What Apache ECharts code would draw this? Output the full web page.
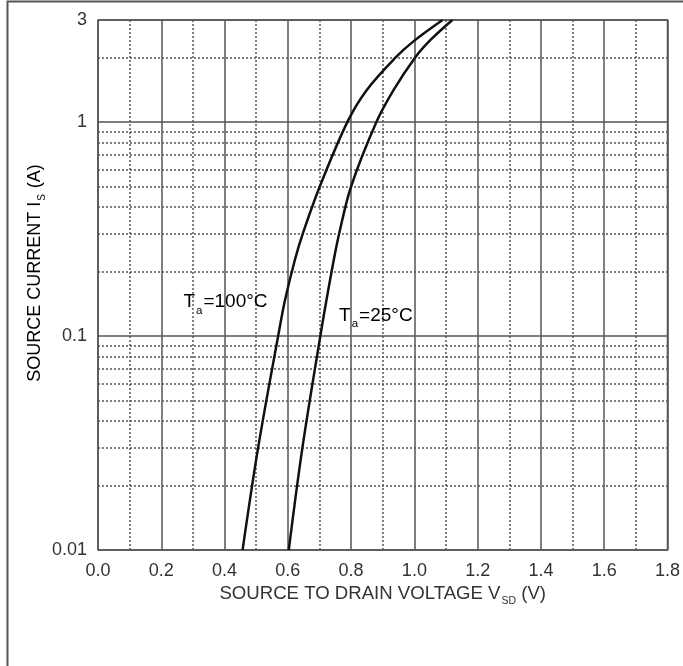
<!DOCTYPE html>
<html>
<head>
<meta charset="utf-8">
<script src="https://cdn.jsdelivr.net/npm/echarts@6/dist/echarts.min.js"></script>
<style>
  html, body { margin: 0; padding: 0; background: #fff; }
  #chart { width: 683px; height: 666px; }
</style>
</head>
<body>
<div id="chart"></div>
<script>
// Source-drain diode forward characteristic, two ambient temperatures
const vsdHot  = [0.457, 0.506, 0.573, 0.591, 0.622, 0.647, 0.701, 0.788, 0.849, 0.940, 0.998, 1.089];
const isHot   = [0.01, 0.03, 0.107, 0.147, 0.226, 0.30, 0.50, 1.00, 1.41, 2.00, 2.39, 3.00];
const vsdRoom = [0.603, 0.646, 0.706, 0.722, 0.745, 0.762, 0.800, 0.880, 0.934, 1.002, 1.051, 1.120];
const isRoom  = [0.01, 0.03, 0.107, 0.147, 0.226, 0.30, 0.50, 1.00, 1.41, 2.00, 2.42, 3.00];

// Dotted sub-decade gridlines of the log current axis
const minorCurrents = [0.02, 0.03, 0.04, 0.05, 0.06, 0.07, 0.08, 0.09,
                       0.2, 0.3, 0.4, 0.5, 0.6, 0.7, 0.8, 0.9, 2];

const xRange = [0, 1.8];
const yRange = [0.01, 3];

const FONT = '"Liberation Sans", Arial, sans-serif';
const TXT = '#333';
const GRID = '#555';

const pairs = (xs, ys) => xs.map((x, i) => [x, ys[i]]);

const chart = echarts.init(document.getElementById('chart'), null, { renderer: 'canvas' });

const option = {
  backgroundColor: '#fff',
  animation: false,
  grid: {
    left: 98, right: 15, top: 20, bottom: 116,
    show: true, borderColor: GRID, borderWidth: 1.5, backgroundColor: 'transparent'
  },
  xAxis: {
    type: 'value',
    min: xRange[0], max: xRange[1], interval: 0.2,
    axisLine: { show: false },
    axisTick: { show: false },
    axisLabel: {
      color: TXT, fontFamily: FONT, fontSize: 18, margin: 12,
      formatter: v => v.toFixed(1)
    },
    splitLine: { show: true, lineStyle: { color: GRID, width: 1.5 } },
    minorTick: { show: false, splitNumber: 2 },
    minorSplitLine: { show: true, lineStyle: { color: GRID, width: 1.5, type: [2, 2] } },
    name: '{m|SOURCE TO DRAIN VOLTAGE V}{s|SD}{m| (V)}',
    nameLocation: 'middle',
    nameGap: 34,
    nameMoveOverlap: false,
    nameTextStyle: {
      rich: {
        m: { color: TXT, fontFamily: FONT, fontSize: 18.6, lineHeight: 20 },
        s: { color: TXT, fontFamily: FONT, fontSize: 10.5, lineHeight: 11, padding: [14, 0, 0, 1] }
      }
    }
  },
  yAxis: {
    type: 'log',
    logBase: 10,
    min: yRange[0], max: yRange[1],
    axisLine: { show: false },
    axisTick: { show: false },
    axisLabel: {
      color: TXT, fontFamily: FONT, fontSize: 18, margin: 11,
      formatter: v => String(+(+v).toPrecision(2))
    },
    splitLine: { show: true, lineStyle: { color: GRID, width: 1.5 } }
  },
  series: [
    {
      name: 'grid-minor',
      type: 'line',
      data: [],
      silent: true,
      markLine: {
        silent: true,
        symbol: 'none',
        label: { show: false },
        lineStyle: { color: GRID, width: 1.5, type: [2, 2] },
        data: minorCurrents.map(v => ({ yAxis: v }))
      }
    },
    {
      name: 'Ta=100°C',
      type: 'line',
      data: pairs(vsdHot, isHot),
      showSymbol: false,
      smooth: 0.35,
      lineStyle: { color: '#111', width: 2.5 },
      z: 5
    },
    {
      name: 'Ta=25°C',
      type: 'line',
      data: pairs(vsdRoom, isRoom),
      showSymbol: false,
      smooth: 0.35,
      lineStyle: { color: '#111', width: 2.5 },
      z: 5
    }
  ]
};

chart.setOption(option);

// Curve captions and the frame, placed from data coordinates
const capRich = {
  t: { color: TXT, fontFamily: FONT, fontSize: 19, lineHeight: 22 },
  s: { color: TXT, fontFamily: FONT, fontSize: 11.5, lineHeight: 12, padding: [18, 1, 0, 1] }
};
const pHot = chart.convertToPixel({ gridIndex: 0 }, [0.270, 0.144]);
const pRoom = chart.convertToPixel({ gridIndex: 0 }, [0.762, 0.125]);

chart.setOption({
  graphic: [
    {
      type: 'text', left: pHot[0], top: pHot[1] - 15, z: 10,
      style: { text: '{t|T}{s|a}{t|=100°C}', rich: capRich }
    },
    {
      type: 'text', left: pRoom[0], top: pRoom[1] - 15, z: 10,
      style: { text: '{t|T}{s|a}{t|=25°C}', rich: capRich }
    },
    {
      type: 'text', z: 10,
      x: 35, y: 273, rotation: Math.PI / 2,
      style: {
        text: '{m|SOURCE CURRENT I}{s|S}{m| (A)}',
        align: 'center', verticalAlign: 'middle',
        rich: {
          m: { color: TXT, fontFamily: FONT, fontSize: 18, lineHeight: 20 },
          s: { color: TXT, fontFamily: FONT, fontSize: 10, lineHeight: 11, padding: [14, 1, 0, 1] }
        }
      }
    },
    {
      type: 'polyline', z: 10, silent: true,
      shape: { points: [[7.5, 666], [7.5, 1.5], [683, 1.5]] },
      style: { stroke: '#555', lineWidth: 2, fill: null }
    }
  ]
});
</script>
</body>
</html>
